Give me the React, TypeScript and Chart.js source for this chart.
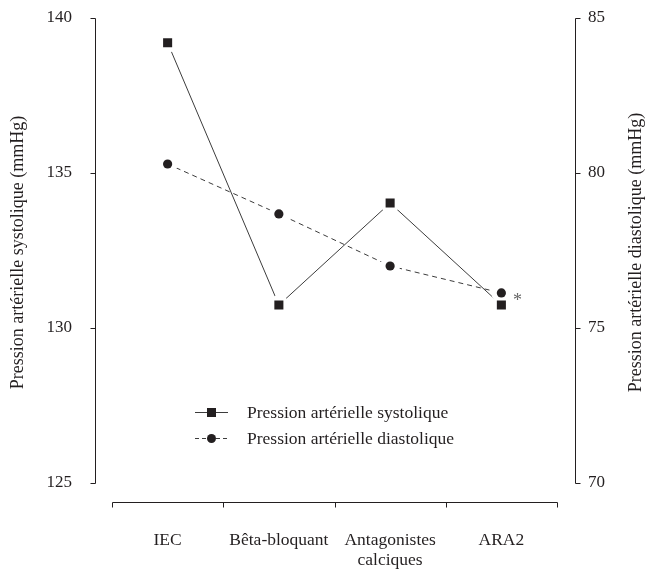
import { useEffect, useRef } from 'react';
import { Chart, registerables } from 'chart.js';

Chart.register(...registerables);

const categories: (string | string[])[] = ['IEC', 'Bêta-bloquant', ['Antagonistes', 'calciques'], 'ARA2'];
const systolic = [139.2, 130.74, 134.03, 130.74];
const diastolic = [80.29, 78.68, 77.0, 76.13];
const leftTicks = [125, 130, 135, 140];
const rightTicks = [70, 75, 80, 85];
const seriesNames = ['Pression artérielle systolique', 'Pression artérielle diastolique'];
const leftTitle = 'Pression artérielle systolique (mmHg)';
const rightTitle = 'Pression artérielle diastolique (mmHg)';
const annotationText = '*';
const annotationIndex = 3;

const FONT = '"Liberation Serif", "Times New Roman", serif';
const INK = '#231f20';
const LINE = '#3c3c3c';

const decorPlugin = {
  id: 'decor',
  afterDraw(chart: any) {
    const { ctx, chartArea, scales } = chart;
    const x = scales.x, y = scales.y, y1 = scales.y1;
    ctx.save();
    ctx.strokeStyle = INK;
    ctx.lineWidth = 1;
    ctx.setLineDash([]);
    // left axis
    const lx = Math.round(chartArea.left - 17) + 0.5;
    ctx.beginPath();
    ctx.moveTo(lx, Math.round(y.getPixelForValue(leftTicks[leftTicks.length - 1])) + 0.5);
    ctx.lineTo(lx, Math.round(y.getPixelForValue(leftTicks[0])) + 0.5);
    leftTicks.forEach((v) => {
      const p = Math.round(y.getPixelForValue(v)) + 0.5;
      ctx.moveTo(lx - 5, p);
      ctx.lineTo(lx, p);
    });
    // right axis
    const rx = Math.round(chartArea.right + 18) + 0.5;
    ctx.moveTo(rx, Math.round(y1.getPixelForValue(rightTicks[rightTicks.length - 1])) + 0.5);
    ctx.lineTo(rx, Math.round(y1.getPixelForValue(rightTicks[0])) + 0.5);
    rightTicks.forEach((v) => {
      const p = Math.round(y1.getPixelForValue(v)) + 0.5;
      ctx.moveTo(rx, p);
      ctx.lineTo(rx + 5, p);
    });
    // x axis
    const xy = Math.round(chartArea.bottom + 19) + 0.5;
    ctx.moveTo(Math.round(x.left) + 0.5, xy);
    ctx.lineTo(Math.round(x.right) + 0.5, xy);
    const n = categories.length;
    for (let i = 0; i <= n; i++) {
      const p = Math.round(x.left + (i * (x.right - x.left)) / n) + 0.5;
      ctx.moveTo(p, xy);
      ctx.lineTo(p, xy + 5);
    }
    ctx.stroke();

    // titles
    ctx.fillStyle = INK;
    ctx.font = `18px ${FONT}`;
    ctx.textAlign = 'center';
    ctx.textBaseline = 'middle';
    const cy = (chartArea.top + chartArea.bottom) / 2 + 2;
    ctx.save();
    ctx.translate(18, cy);
    ctx.rotate(-Math.PI / 2);
    ctx.fillText(leftTitle, 0, 0);
    ctx.restore();
    ctx.save();
    ctx.translate(chart.width - 12, cy);
    ctx.rotate(-Math.PI / 2);
    ctx.fillText(rightTitle, 0, 0);
    ctx.restore();

    // annotation
    const ax = x.getPixelForValue(annotationIndex) + 16;
    const ay = (y.getPixelForValue(systolic[annotationIndex]) + y1.getPixelForValue(diastolic[annotationIndex])) / 2 + 2;
    ctx.fillStyle = '#666';
    ctx.font = `18px ${FONT}`;
    ctx.fillText(annotationText, ax, ay);

    // legend
    const lgx = chartArea.left + 83;
    const rows = [chartArea.top + 394, chartArea.top + 420];
    rows.forEach((ry, i) => {
      ctx.strokeStyle = LINE;
      ctx.lineWidth = 1;
      ctx.setLineDash(i === 0 ? [] : [4, 3]);
      ctx.beginPath();
      ctx.moveTo(lgx, ry + 0.5);
      ctx.lineTo(lgx + 33, ry + 0.5);
      ctx.stroke();
      ctx.setLineDash([]);
      ctx.fillStyle = INK;
      if (i === 0) {
        ctx.fillRect(lgx + 12, ry - 4, 9, 9);
      } else {
        ctx.beginPath();
        ctx.arc(lgx + 16.5, ry + 0.5, 4.5, 0, Math.PI * 2);
        ctx.fill();
      }
      ctx.font = `17.5px ${FONT}`;
      ctx.textAlign = 'left';
      ctx.textBaseline = 'middle';
      ctx.fillText(seriesNames[i], lgx + 52, ry + 1);
    });
    ctx.restore();
  },
};

const noPad = (s: any) => {
  s.paddingTop = 0;
  s.paddingBottom = 0;
  s.paddingLeft = 0;
  s.paddingRight = 0;
};

export default function App() {
  const ref = useRef<HTMLCanvasElement | null>(null);
  useEffect(() => {
    if (!ref.current) return;
    const chart = new Chart(ref.current, {
      type: 'line',
      data: {
        labels: categories as any,
        datasets: [
          {
            label: 'sys-markers',
            data: systolic,
            yAxisID: 'y',
            showLine: false,
            pointStyle: 'rect',
            pointRadius: 6.4,
            pointBackgroundColor: INK,
            pointBorderWidth: 0,
            order: 1,
          },
          {
            label: 'dia-markers',
            data: diastolic,
            yAxisID: 'y1',
            showLine: false,
            pointStyle: 'circle',
            pointRadius: 4.6,
            pointBackgroundColor: INK,
            pointBorderWidth: 0,
            order: 1,
          },
          {
            label: 'sys-halo',
            data: systolic,
            yAxisID: 'y',
            showLine: false,
            pointStyle: 'circle',
            pointRadius: 10,
            pointBackgroundColor: '#ffffff',
            pointBorderWidth: 0,
            order: 2,
          },
          {
            label: 'dia-halo',
            data: diastolic,
            yAxisID: 'y1',
            showLine: false,
            pointStyle: 'circle',
            pointRadius: 10,
            pointBackgroundColor: '#ffffff',
            pointBorderWidth: 0,
            order: 2,
          },
          {
            label: seriesNames[0],
            data: systolic,
            yAxisID: 'y',
            borderColor: LINE,
            borderWidth: 1,
            pointRadius: 0,
            tension: 0,
            order: 3,
          },
          {
            label: seriesNames[1],
            data: diastolic,
            yAxisID: 'y1',
            borderColor: LINE,
            borderWidth: 1,
            borderDash: [5, 4],
            pointRadius: 0,
            tension: 0,
            order: 3,
          },
        ],
      },
      options: {
        responsive: false,
        animation: false,
        events: [],
        layout: { padding: { top: 18, left: 0, right: 0, bottom: 0 } },
        plugins: { legend: { display: false }, tooltip: { enabled: false } },
        scales: {
          x: {
            type: 'category',
            offset: true,
            grid: { display: false, drawTicks: false },
            border: { display: false },
            ticks: {
              color: INK,
              font: { family: FONT, size: 17.5, lineHeight: '20px' as any },
              padding: 47,
              maxRotation: 0,
              autoSkip: false,
            },
            afterFit: (s: any) => {
              s.height = 87;
              noPad(s);
            },
          },
          y: {
            position: 'left',
            min: 125,
            max: 140,
            grid: { display: false, drawTicks: false },
            border: { display: false },
            ticks: {
              stepSize: 5,
              color: INK,
              font: { family: FONT, size: 17 },
              padding: 40,
            },
            afterFit: (s: any) => {
              s.width = 112;
              noPad(s);
            },
          },
          y1: {
            position: 'right',
            min: 70,
            max: 85,
            grid: { display: false, drawTicks: false },
            border: { display: false },
            ticks: {
              stepSize: 5,
              color: INK,
              font: { family: FONT, size: 17 },
              padding: 31,
            },
            afterFit: (s: any) => {
              s.width = 91;
              noPad(s);
            },
          },
        },
      },
      plugins: [decorPlugin],
    });
    return () => chart.destroy();
  }, []);
  return (
    <div style={{ position: 'absolute', left: 0, top: 0, width: 648, height: 570, background: '#fff' }}>
      <canvas ref={ref} width={648} height={570} style={{ display: 'block' }} />
    </div>
  );
}
